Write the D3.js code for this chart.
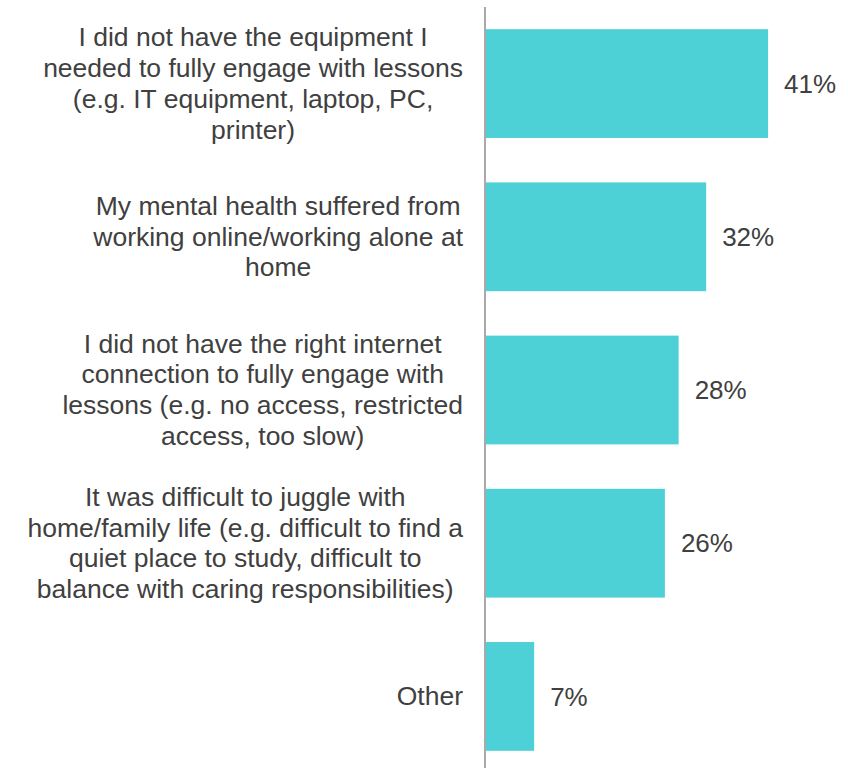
<!DOCTYPE html>
<html><head><meta charset="utf-8">
<script src="https://cdn.jsdelivr.net/npm/d3@7"></script>
<style>body{margin:0;background:#fff}</style>
</head><body>
<svg id="chart" width="848" height="768"></svg>
<script>
const categories = [
  ["I did not have the equipment I","needed to fully engage with lessons","(e.g. IT equipment, laptop, PC,","printer)"],
  ["My mental health suffered from","working online/working alone at","home"],
  ["I did not have the right internet","connection to fully engage with","lessons (e.g. no access, restricted","access, too slow)"],
  ["It was difficult to juggle with","home/family life (e.g. difficult to find a","quiet place to study, difficult to","balance with caring responsibilities)"],
  ["Other"]
];
const values = [41, 32, 28, 26, 7];
const valueLabels = ["41%","32%","28%","26%","7%"];

const svg = d3.select("#chart");
const font = "'Liberation Sans', Arial, sans-serif";
const fs = 26.5, lh = 30.8;
const axisX = 486;
const x = d3.scaleLinear().domain([0, 50]).range([axisX, axisX + 344]);
const ids = categories.map((c,i)=>i);
const y = d3.scaleBand().domain(ids).range([8.5, 771.5]).paddingInner(0.29).paddingOuter(0.135);

svg.selectAll("rect.bar").data(values).enter().append("rect")
  .attr("x", x(0)).attr("y", (d,i)=>y(i))
  .attr("width", d=>x(d)-x(0)).attr("height", y.bandwidth())
  .attr("fill", "#4dd0d6");

svg.append("line").attr("x1", axisX-1).attr("x2", axisX-1).attr("y1", 7).attr("y2", 768)
  .attr("stroke", "#8c8c8c").attr("stroke-width", 1.5);

svg.selectAll("text.val").data(values).enter().append("text")
  .attr("x", d=>x(d)+16).attr("y", (d,i)=>y(i)+y.bandwidth()/2)
  .attr("dy", "0.35em").attr("font-family", font).attr("font-size", 26)
  .attr("fill", "#404040").text((d,i)=>valueLabels[i]);

const rightEdge = 463;
categories.forEach((lines,i)=>{
  const g = svg.append("g");
  const t = g.append("text").attr("font-family", font).attr("font-size", fs)
    .attr("fill", "#404040").attr("text-anchor", "middle");
  const cy = y(i)+y.bandwidth()/2;
  const n = lines.length;
  lines.forEach((l,j)=>{
    t.append("tspan").attr("x", 0).attr("y", cy + (j-(n-1)/2)*lh).attr("dy","0.33em").text(l);
  });
  let maxW = 0;
  t.selectAll("tspan").each(function(){ maxW = Math.max(maxW, this.getComputedTextLength()); });
  t.selectAll("tspan").attr("x", rightEdge - maxW/2);
});
</script>
</body></html>
